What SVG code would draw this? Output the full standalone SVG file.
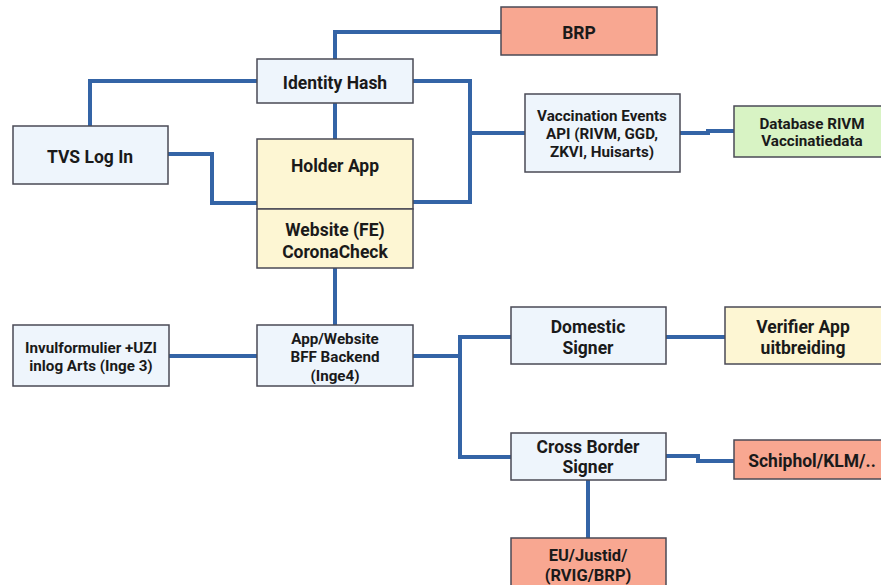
<svg xmlns="http://www.w3.org/2000/svg" width="881" height="585" viewBox="0 0 881 585">
<style>
.box{stroke:#4a4a55;stroke-width:1.5}
.blue{fill:#eef5fc}
.yel{fill:#fdf6d3}
.sal{fill:#f8a791}
.grn{fill:#d8f3c4}
text{font-family:Roboto,"Liberation Sans",sans-serif;font-weight:bold;fill:#1a1a1a;text-anchor:middle}
.l{font-size:17.5px}
.m{font-size:15.2px}
.s{font-size:15.2px}
.e{font-size:16.5px}
.c{fill:none;stroke:#3464a6;stroke-width:4;stroke-linejoin:miter}
</style>
<rect width="881" height="585" fill="#fff"/>
<g id="connectors">
<path class="c" d="M335 59V32H501"/>
<path class="c" d="M90 126V81H257"/>
<path class="c" d="M168 154H212V203H257"/>
<path class="c" d="M335 103V139"/>
<path class="c" d="M413 81H470V202H413"/>
<path class="c" d="M470 133H525"/>
<path class="c" d="M680 133H708V131H734"/>
<path class="c" d="M335 268V325"/>
<path class="c" d="M169 356H257"/>
<path class="c" d="M413 356H460"/>
<path class="c" d="M511 337H460V457H511"/>
<path class="c" d="M666 337H725"/>
<path class="c" d="M666 456H698V461H734"/>
<path class="c" d="M588 480V538"/>
</g>
<g id="brp"><rect class="box sal" x="501" y="7" width="156" height="48"/><text class="l" x="579" y="39">BRP</text></g>
<g id="identity-hash"><rect class="box blue" x="257" y="59" width="156" height="44"/><text class="l" x="335" y="89">Identity Hash</text></g>
<g id="tvs"><rect class="box blue" x="13" y="126" width="155" height="58"/><text class="l" x="90" y="163">TVS Log In</text></g>
<g id="holder-app"><rect class="box yel" x="257" y="139" width="156" height="70"/><text class="l" x="335" y="172">Holder App</text></g>
<g id="website"><rect class="box yel" x="257" y="209" width="156" height="59"/><text class="l" x="335" y="236">Website (FE)</text><text class="l" x="335" y="258">CoronaCheck</text></g>
<g id="vaccination-events"><rect class="box blue" x="525" y="94" width="155" height="78"/><text class="s" x="602" y="121">Vaccination Events</text><text class="s" x="602" y="139">API (RIVM, GGD,</text><text class="s" x="602" y="157">ZKVI, Huisarts)</text></g>
<g id="database-rivm"><rect class="box grn" x="734" y="106" width="150" height="51"/><text class="m" x="812" y="129">Database RIVM</text><text class="m" x="812" y="146">Vaccinatiedata</text></g>
<g id="invulformulier"><rect class="box blue" x="13" y="325" width="156" height="61"/><text class="m" x="91" y="353">Invulformulier +UZI</text><text class="m" x="91" y="371">inlog Arts (Inge 3)</text></g>
<g id="bff"><rect class="box blue" x="257" y="325" width="156" height="61"/><text class="m" x="335" y="344">App/Website</text><text class="m" x="335" y="362">BFF Backend</text><text class="m" x="335" y="381">(Inge4)</text></g>
<g id="domestic-signer"><rect class="box blue" x="511" y="307" width="155" height="57"/><text class="l" x="588" y="333">Domestic</text><text class="l" x="588" y="354">Signer</text></g>
<g id="verifier-app"><rect class="box yel" x="725" y="307" width="159" height="57"/><text class="l" x="803" y="333">Verifier App</text><text class="l" x="803" y="354">uitbreiding</text></g>
<g id="cross-border-signer"><rect class="box blue" x="511" y="433" width="155" height="47"/><text class="l" x="588" y="453">Cross Border</text><text class="l" x="588" y="473">Signer</text></g>
<g id="schiphol"><rect class="box sal" x="734" y="440" width="150" height="39"/><text class="l" x="812" y="467">Schiphol/KLM/..</text></g>
<g id="eu-justid"><rect class="box sal" x="511" y="538" width="155" height="50"/><text class="e" x="588" y="561">EU/Justid/</text><text class="e" x="588" y="581">(RVIG/BRP)</text></g>
</svg>
